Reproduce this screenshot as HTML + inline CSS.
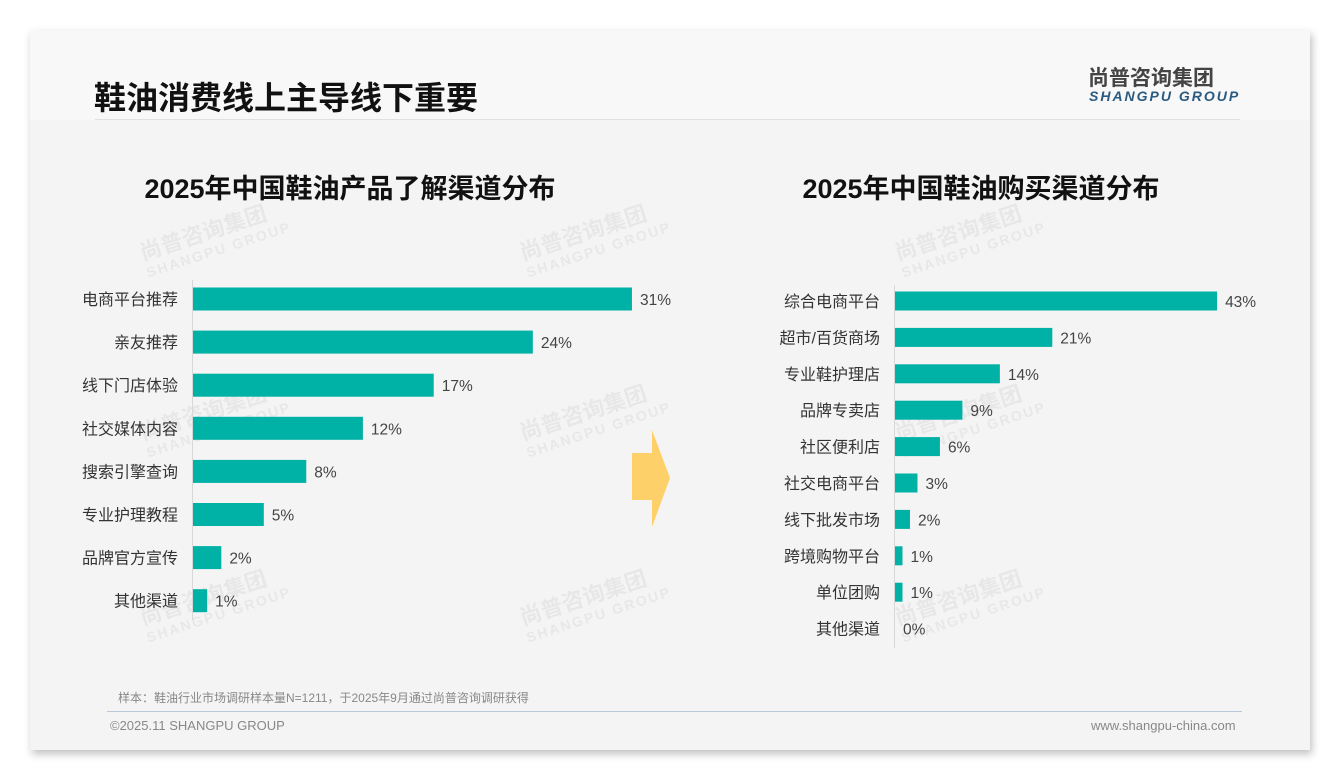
<!DOCTYPE html>
<html><head><meta charset="utf-8">
<style>
body{margin:0;width:1340px;height:780px;background:#fff;overflow:hidden;font-family:"Liberation Sans","Noto Sans CJK SC",sans-serif;}
#slide{position:absolute;left:30px;top:30px;width:1280px;height:720px;background:#f4f4f4;box-shadow:2px 4px 8px rgba(0,0,0,0.25);}
.abs{position:absolute;}
.wm{position:absolute;color:rgba(0,0,0,0.05);font-weight:bold;transform:rotate(-18deg);font-size:22px;line-height:20px;white-space:nowrap}
.wm span{display:block;font-size:14px;letter-spacing:2px}
</style></head><body>
<div id="slide">
  <div class="abs" style="left:0;top:0;width:1280px;height:90px;background:#f8f8f8"></div>
  <div class="abs" style="left:64px;top:43px;font-size:32px;font-weight:bold;color:#111">鞋油消费线上主导线下重要</div>
  <div class="abs" style="left:1058px;top:32px;font-size:21px;font-weight:bold;color:#444">尚普咨询集团</div>
  <div class="abs" style="left:1059px;top:58px;font-size:14px;font-weight:bold;font-style:italic;color:#2a5a80;letter-spacing:2px">SHANGPU GROUP</div>
  <div class="abs" style="left:65px;top:89px;width:1145px;height:1px;background:#e0e0e0"></div>
  <div class="wm" style="left:110px;top:190px">尚普咨询集团<span>SHANGPU GROUP</span></div>
  <div class="wm" style="left:490px;top:190px">尚普咨询集团<span>SHANGPU GROUP</span></div>
  <div class="wm" style="left:865px;top:190px">尚普咨询集团<span>SHANGPU GROUP</span></div>
  <div class="wm" style="left:110px;top:370px">尚普咨询集团<span>SHANGPU GROUP</span></div>
  <div class="wm" style="left:490px;top:370px">尚普咨询集团<span>SHANGPU GROUP</span></div>
  <div class="wm" style="left:865px;top:370px">尚普咨询集团<span>SHANGPU GROUP</span></div>
  <div class="wm" style="left:110px;top:555px">尚普咨询集团<span>SHANGPU GROUP</span></div>
  <div class="wm" style="left:490px;top:555px">尚普咨询集团<span>SHANGPU GROUP</span></div>
  <div class="wm" style="left:865px;top:555px">尚普咨询集团<span>SHANGPU GROUP</span></div>
  <div class="abs" style="left:88px;top:659px;font-size:12px;color:#888">样本：鞋油行业市场调研样本量N=1211，于2025年9月通过尚普咨询调研获得</div>
  <div class="abs" style="left:77px;top:681px;width:1135px;height:1px;background:#b8c8d8"></div>
  <div class="abs" style="left:80px;top:688px;font-size:13px;color:#888">©2025.11 SHANGPU GROUP</div>
  <div class="abs" style="left:1061px;top:688px;font-size:13px;color:#888">www.shangpu-china.com</div>
</div>
<svg id="chart" width="1340" height="780" style="position:absolute;left:0;top:0"></svg>
<script>
const leftCats=["电商平台推荐","亲友推荐","线下门店体验","社交媒体内容","搜索引擎查询","专业护理教程","品牌官方宣传","其他渠道"];
const leftVals=[31,24,17,12,8,5,2,1];
const rightCats=["综合电商平台","超市/百货商场","专业鞋护理店","品牌专卖店","社区便利店","社交电商平台","线下批发市场","跨境购物平台","单位团购","其他渠道"];
const rightVals=[43,21,14,9,6,3,2,1,1,0];
const NS="http://www.w3.org/2000/svg";
const svg=document.getElementById('chart');
function mk(t,a,txt){const e=document.createElementNS(NS,t);for(const k in a)e.setAttribute(k,a[k]);if(txt!=null)e.textContent=txt;svg.appendChild(e);return e;}
function chart(cats,vals,o){
  const x=v=>o.x0+v*o.ppu, y=i=>o.y0+i*o.step;
  let t=mk('text',{x:o.tx,y:198,'text-anchor':'middle','font-size':27,'font-weight':'bold',fill:'#111'},o.title);
  
  
  let ax=mk('line',{x1:o.x0-0.5,x2:o.x0-0.5,y1:o.ay1,y2:o.ay2,stroke:'#d8d8d8','stroke-width':1});
  
  
  cats.forEach((c,i)=>{
    const cy=y(i);
    let l=mk('text',{x:o.x0-15,y:cy+6,'text-anchor':'end','font-size':16,fill:'#333'},c);
    
    
    const w=x(vals[i])-o.x0;
    let r=mk('rect',{x:o.x0,y:cy-o.bh/2,width:Math.max(w,0),height:o.bh,fill:'#00b1a5'});
    
    
    let v=mk('text',{x:x(vals[i])+8,y:cy+6,'font-size':15.5,fill:'#444'},vals[i]+'%');
    
    
  });
}
chart(leftCats,leftVals,{name:'awareness',title:'2025年中国鞋油产品了解渠道分布',tx:350,x0:193,ppu:14.16,y0:299,step:43.1,bh:23,ay1:280,ay2:620});
chart(rightCats,rightVals,{name:'purchase',title:'2025年中国鞋油购买渠道分布',tx:981,x0:895,ppu:7.49,y0:301,step:36.4,bh:19,ay1:285,ay2:648});
let ar=mk('polygon',{points:'632,453 652,453 652,430 670,478 652,527 652,500 632,500',fill:'#fdd06a'});


</script>
</body></html>
